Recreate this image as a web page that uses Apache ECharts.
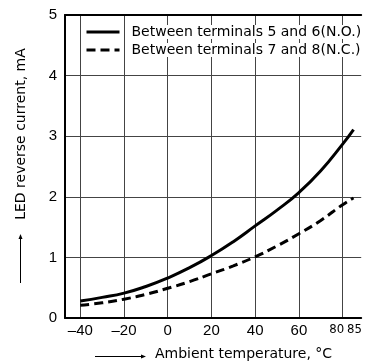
<!DOCTYPE html>
<html><head><meta charset="utf-8">
<script src="https://cdn.jsdelivr.net/npm/echarts@6/dist/echarts.min.js"></script>
<style>html,body{margin:0;padding:0;background:#fff}#c{width:365px;height:362px}</style>
</head><body><div id="c"></div>
<script>
const temps = [-40,-30,-20,-10,0,10,20,30,40,50,60,70,80,85];
const noCurrent = [0.28,0.34,0.41,0.52,0.66,0.83,1.03,1.26,1.52,1.78,2.07,2.43,2.87,3.11];
const ncCurrent = [0.21,0.25,0.31,0.39,0.49,0.60,0.73,0.86,1.01,1.19,1.39,1.61,1.87,1.98];
const xTicks = [-40,-20,0,20,40,60,80,85];
const xGridValues = [-40,-20,0,20,40,60,80];
const seriesNames = ['Between terminals 5 and 6(N.O.)','Between terminals 7 and 8(N.C.)'];
const xName = 'Ambient temperature, \u00b0C';
const yName = 'LED reverse current, mA';

const font = 'Arial, "Liberation Sans", Helvetica, sans-serif';
const wide = '"DejaVu Sans", Arial, sans-serif';
const narrow = '"Liberation Sans Narrow","DejaVu Sans Condensed",Arial, sans-serif';
const chart = echarts.init(document.getElementById('c'), null, {renderer:'canvas'});
chart.setOption({
  animation:false,
  backgroundColor:'#fff',
  grid:{left:65, right:0, top:15, bottom:44, containLabel:false},
  legend:{
    orient:'vertical', left:85, top:25, itemWidth:33, itemHeight:14, itemGap:4,
    padding:0,
    data: seriesNames,
    itemStyle:{opacity:0},
    lineStyle:{width:3},
    formatter: n => '{g|}{t|' + n + '}',
    textStyle:{fontFamily:wide, fontSize:14, color:'#000',
      rich:{g:{width:6}, t:{fontFamily:wide, fontSize:14, lineHeight:15, color:'#000', backgroundColor:'#fff', padding:[0,1,0,1]}}}
  },
  xAxis:[{
    type:'value', min:-47, max:88.5, position:'bottom',
    axisLine:{show:true, onZero:false, lineStyle:{color:'#000', width:2}},
    axisTick:{show:false, customValues:xGridValues},
    axisLabel:{customValues:xTicks, margin:5, fontFamily:font, fontSize:15, color:'#000',
      hideOverlap:false, showMaxLabel:true, showMinLabel:true,
      formatter: v => v===80 ? '{a|80}' : v===85 ? '{b|85}' : String(v).replace('-', '\u2013'),
      rich:{a:{fontFamily:narrow, fontSize:13, padding:[0,12,0,0], color:'#000'},
            b:{fontFamily:narrow, fontSize:13, padding:[0,0,0,2], color:'#000'}}},
    splitLine:{show:true, lineStyle:{color:'#444', width:1}}
  },{
    type:'value', min:-47, max:88.5, position:'top',
    axisLine:{show:true, onZero:false, lineStyle:{color:'#000', width:2}},
    axisTick:{show:false}, axisLabel:{show:false}, splitLine:{show:false}
  }],
  yAxis:{
    type:'value', min:0, max:5, interval:1,
    axisLine:{show:true, onZero:false, lineStyle:{color:'#000', width:2}},
    axisTick:{show:false},
    axisLabel:{margin:8, fontFamily:font, fontSize:15, color:'#000'},
    splitLine:{show:true, lineStyle:{color:'#444', width:1}}
  },
  series:[
    {name:seriesNames[0], type:'line', smooth:true, symbol:'none', data:temps.map((t,i)=>[t,noCurrent[i]]),
     lineStyle:{color:'#000', width:3}, itemStyle:{color:'#000'}},
    {name:seriesNames[1], type:'line', smooth:true, symbol:'none', data:temps.map((t,i)=>[t,ncCurrent[i]]),
     lineStyle:{color:'#000', width:3, type:[9,5]}, itemStyle:{color:'#000'}}
  ],
  graphic:[
    {type:'text', x:21, y:134, rotation:Math.PI/2, style:{text:yName, font:'14px '+wide, fill:'#000', align:'center', verticalAlign:'middle'}},
    {type:'line', shape:{x1:20.5, y1:283, x2:20.5, y2:237}, style:{stroke:'#000', lineWidth:1}},
    {type:'polygon', shape:{points:[[18.5,239],[20.5,234],[22.5,239]]}, style:{fill:'#000'}},
    {type:'text', x:155, y:354, style:{text:xName, font:'14px '+wide, fill:'#000', align:'left', verticalAlign:'middle'}},
    {type:'line', shape:{x1:95, y1:356.5, x2:143, y2:356.5}, style:{stroke:'#000', lineWidth:1}},
    {type:'polygon', shape:{points:[[141,354.5],[146,356.5],[141,358.5]]}, style:{fill:'#000'}}
  ]
});
</script></body></html>
